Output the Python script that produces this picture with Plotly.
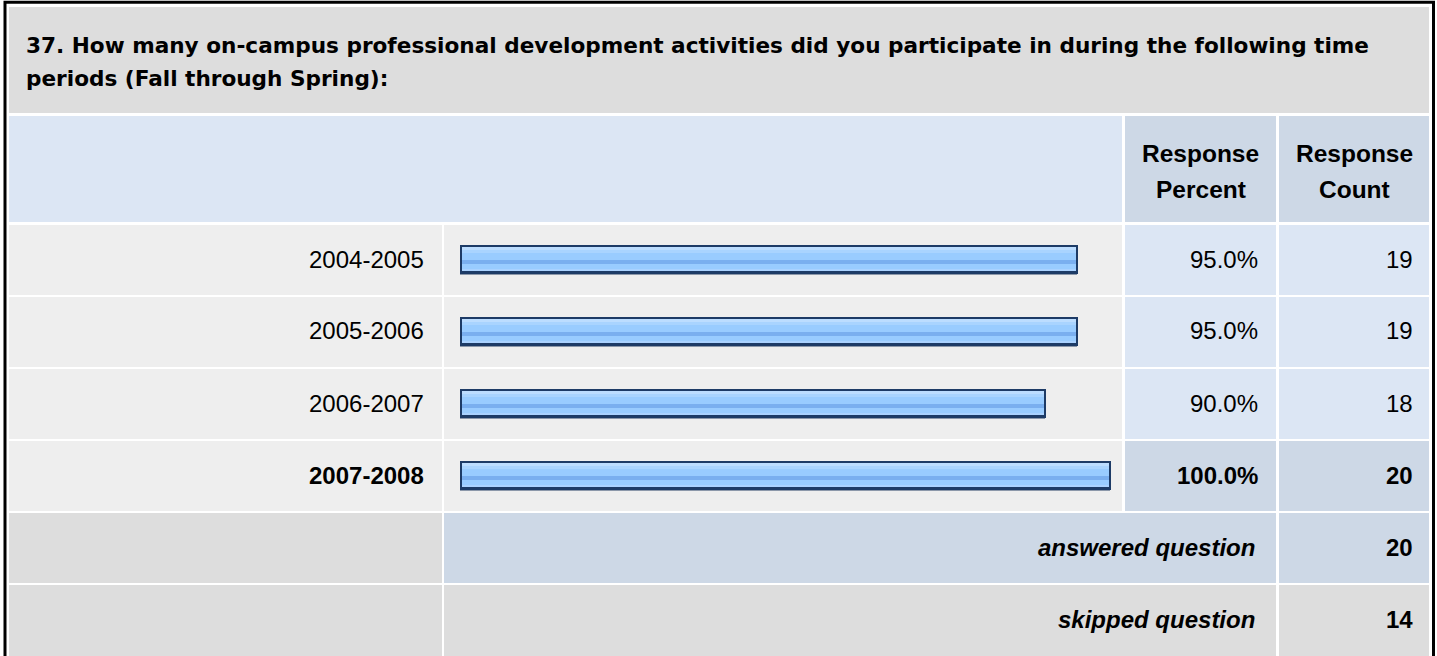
import plotly.graph_objects as go

# ---------------- data ----------------
title_lines = [
    "37. How many on-campus professional development activities did you participate in during the following time",
    "periods (Fall through Spring):",
]
header_percent = ["Response", "Percent"]
header_count = ["Response", "Count"]
years = ["2004-2005", "2005-2006", "2006-2007", "2007-2008"]
percents = [95.0, 95.0, 90.0, 100.0]
counts = [19, 19, 18, 20]
summary_labels = ["answered question", "skipped question"]
summary_values = [20, 14]

# ---------------- layout helpers ----------------
W, H = 1437, 656
FONT = "Liberation Sans, Arial, sans-serif"
TITLE_FONT = "DejaVu Sans, Liberation Sans, Arial, sans-serif"
GREY_D = "#DDDDDD"
GREY_L = "#EEEEEE"
BLUE_L = "#DCE6F4"
BLUE_D = "#CDD8E6"


def X(px):
    return px / W


def Y(py):
    return 1 - py / H


shapes = []
annotations = []


def cell(x0, x1, y0, y1, color):
    shapes.append(dict(type="rect", xref="paper", yref="paper", layer="below",
                       x0=X(x0), x1=X(x1), y0=Y(y1), y1=Y(y0),
                       fillcolor=color, line=dict(width=0)))


def text(s, x, y, anchor="left", size=24, color="#000000", family=FONT):
    annotations.append(dict(text=s, xref="paper", yref="paper", x=X(x), y=Y(y),
                            xanchor=anchor, yanchor="middle", showarrow=False,
                            font=dict(family=family, size=size, color=color)))


# columns
C0 = (9, 442)
C1 = (444, 1122)
C2 = (1125, 1276)
C3 = (1279, 1429)
# rows
R_TITLE = (7, 113)
R_HEAD = (116, 222)
ROW_TOP0, ROW_PITCH, ROW_H = 225, 72, 70

# title row
cell(C0[0], C3[1], R_TITLE[0], R_TITLE[1], GREY_D)
text("<b>%s</b>" % title_lines[0], 24, 46, size=21.6, family=TITLE_FONT)
text("<b>%s</b>" % title_lines[1], 24, 78, size=21.6, family=TITLE_FONT)

# header row
cell(C0[0], C1[1], R_HEAD[0], R_HEAD[1], BLUE_L)
cell(C2[0], C2[1], R_HEAD[0], R_HEAD[1], BLUE_D)
cell(C3[0], C3[1], R_HEAD[0], R_HEAD[1], BLUE_D)
for col, lines in ((C2, header_percent), (C3, header_count)):
    cx = (col[0] + col[1]) / 2
    text("<b>%s</b>" % lines[0], cx, 153, anchor="center", size=24.5)
    text("<b>%s</b>" % lines[1], cx, 189, anchor="center", size=24.5)

# data rows
top_val = max(percents)
for i, (yr, p, c) in enumerate(zip(years, percents, counts)):
    y0 = ROW_TOP0 + i * ROW_PITCH
    y1 = y0 + ROW_H
    bold = p == top_val
    cell(C0[0], C0[1], y0, y1, GREY_L)
    cell(C1[0], C1[1], y0, y1, GREY_L)
    cell(C2[0], C2[1], y0, y1, BLUE_D if bold else BLUE_L)
    cell(C3[0], C3[1], y0, y1, BLUE_D if bold else BLUE_L)
    cy = (y0 + y1) / 2 - 1
    fmt = (lambda s: "<b>%s</b>" % s) if bold else (lambda s: s)
    text(fmt(yr), 426, cy, anchor="right")
    text(fmt("%.1f%%" % p), 1260, cy, anchor="right")
    text(fmt(str(c)), 1415, cy, anchor="right")

# summary rows
n = len(years)
for j, (lab, val) in enumerate(zip(summary_labels, summary_values)):
    y0 = ROW_TOP0 + (n + j) * ROW_PITCH
    y1 = y0 + ROW_H if j == 0 else H + 10
    cell(C0[0], C0[1], y0, y1, GREY_D)
    cell(C1[0], C2[1], y0, y1, BLUE_D if j == 0 else GREY_D)
    cell(C3[0], C3[1], y0, y1, BLUE_D if j == 0 else GREY_D)
    cy = y0 + ROW_H / 2 - 1
    text("<b><i>%s</i></b>" % lab, 1257, cy, anchor="right")
    text("<b>%s</b>" % val, 1415, cy, anchor="right")

# outer border
shapes.append(dict(type="rect", xref="paper", yref="paper", layer="above",
                   x0=X(5), x1=X(1433.5), y0=Y(H + 20), y1=Y(2.3),
                   fillcolor="rgba(0,0,0,0)", line=dict(color="#000000", width=3)))

# ---------------- bars ----------------
PX_PER_CAT = ROW_PITCH
BAR_LEFT, BAR_RIGHT = 460, 1111
UNIT_PX = (BAR_RIGHT - BAR_LEFT) / 100.0
BAR_CENTER0 = 258.5


def layer(values, base, top_px, bottom_px, color):
    # top_px/bottom_px relative to bar centre (screen pixels, downward positive)
    return go.Bar(
        y=years, x=values, base=base, orientation="h",
        offset=top_px / PX_PER_CAT, width=(bottom_px - top_px) / PX_PER_CAT,
        marker=dict(color=color, line=dict(width=0)),
        hoverinfo="skip", showlegend=False,
    )


inset = 2 / UNIT_PX
shadow_shift = 1 / UNIT_PX
inner_vals = [p - 2 * inset for p in percents]

fig = go.Figure()
fig.add_trace(layer(percents, -shadow_shift, -13.5, 15.8, "#8C98AA"))
fig.add_trace(layer(percents, 0, -14.5, 14.5, "#1D3B66"))
fig.add_trace(layer(inner_vals, inset, -12.5, 11.8, "#99CCFF"))
fig.add_trace(layer(inner_vals, inset, -12.5, -9.5, "#BCDDFF"))
fig.add_trace(layer(inner_vals, inset, -9.5, -5.8, "#A9D4FF"))
fig.add_trace(layer(inner_vals, inset, 0.8, 5.2, "#7AAFEF"))
fig.add_trace(layer(inner_vals, inset, 9.5, 11.8, "#AAD2FF"))

y_top = BAR_CENTER0 - PX_PER_CAT / 2
y_bot = BAR_CENTER0 + (len(years) - 0.5) * PX_PER_CAT

fig.update_layout(
    width=W, height=H, autosize=False,
    margin=dict(l=0, r=0, t=0, b=0, pad=0),
    paper_bgcolor="#FFFFFF", plot_bgcolor="rgba(0,0,0,0)",
    barmode="overlay", bargap=0,
    shapes=shapes, annotations=annotations,
    xaxis=dict(domain=[X(BAR_LEFT), X(BAR_RIGHT)], range=[0, 100], visible=False,
               fixedrange=True),
    yaxis=dict(domain=[Y(y_bot), Y(y_top)], type="category", categoryarray=years,
               categoryorder="array", range=[len(years) - 0.5, -0.5], visible=False,
               fixedrange=True),
    showlegend=False,
)

fig.write_html("out.html", config={"displayModeBar": False},
               post_script="document.body.style.margin='0';")
